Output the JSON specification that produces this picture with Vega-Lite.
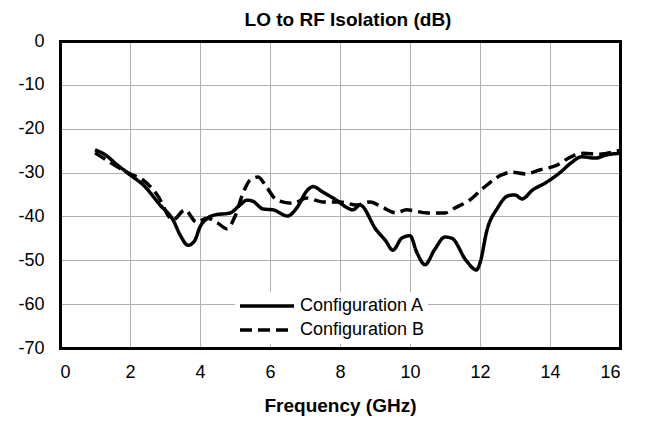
{
  "$schema": "https://vega.github.io/schema/vega-lite/v6.json",
  "width": 560,
  "height": 307,
  "autosize": "none",
  "padding": {"left": 60, "top": 41, "right": 25, "bottom": 75},
  "background": "white",
  "title": {"text": "LO to RF Isolation (dB)", "font": "Liberation Sans", "fontSize": 19, "fontWeight": "bold", "color": "black", "anchor": "middle", "offset": 2, "dx": 8},
  "config": {
    "view": {"stroke": null},
    "font": "Liberation Sans"
  },
  "data": {"values": [
    {"f": 1.0, "db": -24.8, "s": "Configuration A"},
    {"f": 1.3, "db": -26.0, "s": "Configuration A"},
    {"f": 1.6, "db": -28.0, "s": "Configuration A"},
    {"f": 2.0, "db": -30.5, "s": "Configuration A"},
    {"f": 2.4, "db": -33.0, "s": "Configuration A"},
    {"f": 2.86, "db": -37.4, "s": "Configuration A"},
    {"f": 3.23, "db": -40.8, "s": "Configuration A"},
    {"f": 3.45, "db": -44.5, "s": "Configuration A"},
    {"f": 3.66, "db": -46.6, "s": "Configuration A"},
    {"f": 3.85, "db": -45.5, "s": "Configuration A"},
    {"f": 4.0, "db": -42.4, "s": "Configuration A"},
    {"f": 4.2, "db": -40.5, "s": "Configuration A"},
    {"f": 4.4, "db": -39.7, "s": "Configuration A"},
    {"f": 4.86, "db": -39.2, "s": "Configuration A"},
    {"f": 5.14, "db": -37.4, "s": "Configuration A"},
    {"f": 5.34, "db": -36.3, "s": "Configuration A"},
    {"f": 5.5, "db": -36.5, "s": "Configuration A"},
    {"f": 5.8, "db": -38.3, "s": "Configuration A"},
    {"f": 6.09, "db": -38.5, "s": "Configuration A"},
    {"f": 6.5, "db": -39.9, "s": "Configuration A"},
    {"f": 6.77, "db": -38.0, "s": "Configuration A"},
    {"f": 7.05, "db": -34.2, "s": "Configuration A"},
    {"f": 7.23, "db": -33.2, "s": "Configuration A"},
    {"f": 7.5, "db": -34.4, "s": "Configuration A"},
    {"f": 7.9, "db": -36.3, "s": "Configuration A"},
    {"f": 8.2, "db": -38.0, "s": "Configuration A"},
    {"f": 8.37, "db": -38.5, "s": "Configuration A"},
    {"f": 8.57, "db": -37.4, "s": "Configuration A"},
    {"f": 9.03, "db": -43.0, "s": "Configuration A"},
    {"f": 9.3, "db": -45.5, "s": "Configuration A"},
    {"f": 9.51, "db": -47.7, "s": "Configuration A"},
    {"f": 9.77, "db": -44.9, "s": "Configuration A"},
    {"f": 10.0, "db": -44.4, "s": "Configuration A"},
    {"f": 10.2, "db": -48.3, "s": "Configuration A"},
    {"f": 10.43, "db": -51.0, "s": "Configuration A"},
    {"f": 10.7, "db": -47.6, "s": "Configuration A"},
    {"f": 11.0, "db": -44.7, "s": "Configuration A"},
    {"f": 11.2, "db": -45.0, "s": "Configuration A"},
    {"f": 11.6, "db": -50.0, "s": "Configuration A"},
    {"f": 11.9, "db": -52.2, "s": "Configuration A"},
    {"f": 12.0, "db": -50.6, "s": "Configuration A"},
    {"f": 12.2, "db": -43.1, "s": "Configuration A"},
    {"f": 12.5, "db": -38.1, "s": "Configuration A"},
    {"f": 12.8, "db": -35.3, "s": "Configuration A"},
    {"f": 13.0, "db": -35.1, "s": "Configuration A"},
    {"f": 13.2, "db": -36.0, "s": "Configuration A"},
    {"f": 13.5, "db": -34.0, "s": "Configuration A"},
    {"f": 13.9, "db": -32.2, "s": "Configuration A"},
    {"f": 14.3, "db": -29.9, "s": "Configuration A"},
    {"f": 14.6, "db": -27.8, "s": "Configuration A"},
    {"f": 14.9, "db": -26.4, "s": "Configuration A"},
    {"f": 15.3, "db": -26.7, "s": "Configuration A"},
    {"f": 15.6, "db": -26.0, "s": "Configuration A"},
    {"f": 16.0, "db": -25.6, "s": "Configuration A"},
    {"f": 1.0, "db": -25.5, "s": "Configuration B"},
    {"f": 1.5, "db": -28.0, "s": "Configuration B"},
    {"f": 2.0, "db": -30.3, "s": "Configuration B"},
    {"f": 2.37, "db": -31.7, "s": "Configuration B"},
    {"f": 2.77, "db": -35.0, "s": "Configuration B"},
    {"f": 3.23, "db": -40.8, "s": "Configuration B"},
    {"f": 3.57, "db": -38.5, "s": "Configuration B"},
    {"f": 3.9, "db": -41.3, "s": "Configuration B"},
    {"f": 4.2, "db": -40.4, "s": "Configuration B"},
    {"f": 4.5, "db": -41.5, "s": "Configuration B"},
    {"f": 4.77, "db": -42.8, "s": "Configuration B"},
    {"f": 5.0, "db": -40.0, "s": "Configuration B"},
    {"f": 5.23, "db": -34.7, "s": "Configuration B"},
    {"f": 5.43, "db": -31.7, "s": "Configuration B"},
    {"f": 5.66, "db": -31.0, "s": "Configuration B"},
    {"f": 5.9, "db": -33.3, "s": "Configuration B"},
    {"f": 6.2, "db": -36.3, "s": "Configuration B"},
    {"f": 6.66, "db": -37.0, "s": "Configuration B"},
    {"f": 7.05, "db": -35.8, "s": "Configuration B"},
    {"f": 7.5, "db": -36.7, "s": "Configuration B"},
    {"f": 8.0, "db": -36.7, "s": "Configuration B"},
    {"f": 8.47, "db": -37.4, "s": "Configuration B"},
    {"f": 8.86, "db": -36.7, "s": "Configuration B"},
    {"f": 9.23, "db": -38.0, "s": "Configuration B"},
    {"f": 9.6, "db": -39.2, "s": "Configuration B"},
    {"f": 9.9, "db": -38.5, "s": "Configuration B"},
    {"f": 10.5, "db": -39.2, "s": "Configuration B"},
    {"f": 11.0, "db": -39.2, "s": "Configuration B"},
    {"f": 11.3, "db": -38.0, "s": "Configuration B"},
    {"f": 11.7, "db": -36.3, "s": "Configuration B"},
    {"f": 12.1, "db": -33.5, "s": "Configuration B"},
    {"f": 12.6, "db": -30.6, "s": "Configuration B"},
    {"f": 12.9, "db": -29.9, "s": "Configuration B"},
    {"f": 13.3, "db": -30.3, "s": "Configuration B"},
    {"f": 13.7, "db": -29.4, "s": "Configuration B"},
    {"f": 14.2, "db": -28.3, "s": "Configuration B"},
    {"f": 14.6, "db": -26.4, "s": "Configuration B"},
    {"f": 14.95, "db": -25.6, "s": "Configuration B"},
    {"f": 15.4, "db": -25.8, "s": "Configuration B"},
    {"f": 16.0, "db": -24.9, "s": "Configuration B"}
  ]},
  "layer": [
    {
      "mark": {"type": "line", "interpolate": "monotone", "strokeWidth": 3.5},
      "encoding": {
        "x": {"field": "f", "type": "quantitative", "scale": {"domain": [0, 16], "nice": false},
          "axis": {"title": "Frequency (GHz)", "values": [0,2,4,6,8,10,12,14,16], "grid": true, "gridColor": "#b0b0b0", "gridWidth": 1, "domain": true, "domainColor": "black", "domainWidth": 3, "domainCap": "square", "ticks": false,
            "labelFontSize": 18, "labelColor": "black", "labelPadding": 15, "titleFontSize": 19, "titleFontWeight": "bold", "titleColor": "black", "titlePadding": 15, "labelFont": "Liberation Sans", "titleFont": "Liberation Sans"}},
        "y": {"field": "db", "type": "quantitative", "scale": {"domain": [-70, 0], "nice": false},
          "axis": {"title": null, "values": [0,-10,-20,-30,-40,-50,-60,-70], "labelExpr": "'' + datum.value", "grid": true, "gridColor": "#b0b0b0", "gridWidth": 1, "domain": true, "domainColor": "black", "domainWidth": 3, "domainCap": "square", "ticks": false,
            "labelFontSize": 18, "labelColor": "black", "labelPadding": 16, "labelFont": "Liberation Sans"}},
        "color": {"field": "s", "type": "nominal", "scale": {"range": ["black", "black"]},
          "legend": {"title": null, "orient": "none", "legendX": 175, "legendY": 251, "symbolType": "stroke", "symbolSize": 2916, "symbolStrokeWidth": 3.5, "clipHeight": 22,
            "labelFontSize": 18, "labelColor": "black", "labelFont": "Liberation Sans", "labelOffset": 4, "fillColor": "white", "padding": 3, "rowPadding": 2}},
        "strokeDash": {"field": "s", "type": "nominal", "scale": {"range": [[1, 0], [12, 6]]},
          "legend": {"title": null, "orient": "none", "legendX": 175, "legendY": 251, "symbolType": "stroke", "symbolSize": 2916, "symbolStrokeWidth": 3.5, "clipHeight": 22,
            "labelFontSize": 18, "labelColor": "black", "labelFont": "Liberation Sans", "labelOffset": 4, "fillColor": "white", "padding": 3, "rowPadding": 2}}
      }
    },
    {
      "mark": {"type": "point", "opacity": 0},
      "encoding": {
        "x": {"field": "f", "type": "quantitative", "axis": {"orient": "top", "title": null, "labels": false, "ticks": false, "grid": false, "domain": true, "domainColor": "black", "domainWidth": 3, "domainCap": "square"}},
        "y": {"field": "db", "type": "quantitative", "axis": {"orient": "right", "title": null, "labels": false, "ticks": false, "grid": false, "domain": true, "domainColor": "black", "domainWidth": 3, "domainCap": "square"}}
      }
    }
  ],
  "resolve": {"axis": {"x": "independent", "y": "independent"}}
}
